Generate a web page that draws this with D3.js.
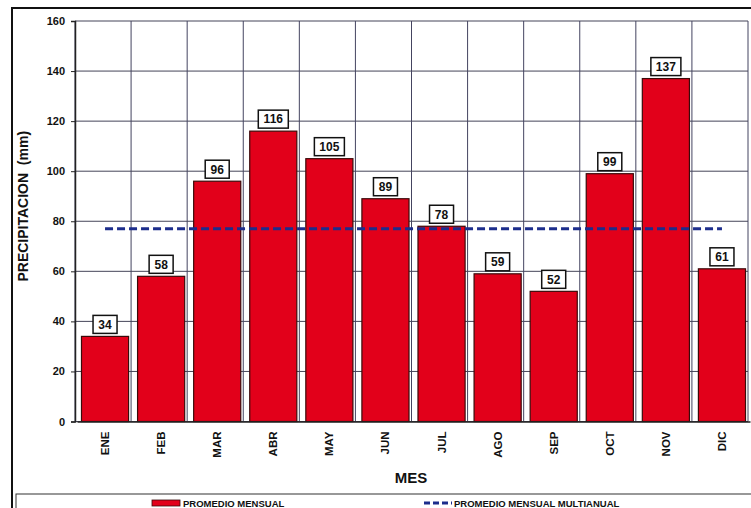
<!DOCTYPE html>
<html>
<head>
<meta charset="utf-8">
<script src="https://cdn.jsdelivr.net/npm/d3@7"></script>
<style>
  body { margin: 0; background: #fff; }
  svg { display: block; font-family: Arial, "Liberation Sans", sans-serif; font-weight: bold; }
</style>
</head>
<body>
<div id="chart"></div>
<script>
// ========== DATA ==========
const months = ["ENE", "FEB", "MAR", "ABR", "MAY", "JUN", "JUL", "AGO", "SEP", "OCT", "NOV", "DIC"];
const monthly = [34, 58, 96, 116, 105, 89, 78, 59, 52, 99, 137, 61];
const multiannual = [77, 77, 77, 77, 77, 77, 77, 77, 77, 77, 77, 77];
const yTicks = [0, 20, 40, 60, 80, 100, 120, 140, 160];

const width = 751, height = 508;
const margin = { top: 21, right: 3, bottom: 86.5, left: 75 };

const svg = d3.select("#chart").append("svg")
  .attr("width", width)
  .attr("height", height);

// outer frame
svg.append("rect")
  .attr("x", 12).attr("y", 8)
  .attr("width", 750).attr("height", 520)
  .style("fill", "none").style("stroke", "#111").style("stroke-width", 2);

// bars sit a little right of the cell centre in the original
const x = d3.scaleBand()
  .domain(months)
  .range([margin.left + 2, width - margin.right + 2])
  .paddingInner(0.16)
  .paddingOuter(0.08);

const y = d3.scaleLinear()
  .domain([0, 160])
  .range([height - margin.bottom, margin.top]);

const plot = svg.append("g");

// horizontal grid
plot.selectAll(".hgrid")
  .data(yTicks)
  .join("line")
  .attr("x1", margin.left).attr("x2", width - margin.right)
  .attr("y1", d => y(d)).attr("y2", d => y(d))
  .style("stroke", "#444458").style("stroke-width", 1);

// vertical grid at category boundaries
const bounds = d3.range(months.length + 1).map(i => margin.left + i * (width - margin.right - margin.left) / months.length);
plot.selectAll(".vgrid")
  .data(bounds)
  .join("line")
  .attr("x1", d => d).attr("x2", d => d)
  .attr("y1", y(160)).attr("y2", y(0))
  .style("stroke", "#444460").style("stroke-width", 1);

// y axis
const yAxis = svg.append("g")
  .attr("transform", `translate(${margin.left},0)`)
  .call(d3.axisLeft(y).tickValues(yTicks).tickSize(4).tickPadding(6));
yAxis.select(".domain").style("stroke", "#222").style("stroke-width", 1.5);
yAxis.selectAll(".tick line").style("stroke", "#222");
yAxis.selectAll("text")
  .style("font-size", "11px").style("font-weight", "bold")
  .style("font-family", "Arial, sans-serif").style("fill", "#111");

// x axis
const xAxis = svg.append("g")
  .attr("transform", `translate(0,${y(0)})`)
  .call(d3.axisBottom(x).tickSize(0).tickPadding(0));
xAxis.select(".domain").style("stroke", "#222").style("stroke-width", 1.5);
xAxis.selectAll("text")
  .attr("transform", "rotate(-90)")
  .attr("x", -10).attr("y", 0).attr("dy", "0.35em")
  .style("text-anchor", "end")
  .style("font-size", "11.5px").style("font-weight", "bold")
  .style("font-family", "Arial, sans-serif").style("fill", "#111");

// bars
plot.selectAll(".bar")
  .data(monthly)
  .join("rect")
  .attr("x", (d, i) => x(months[i]))
  .attr("y", d => y(d))
  .attr("width", x.bandwidth())
  .attr("height", d => y(0) - y(d))
  .style("fill", "#e2001a")
  .style("stroke", "#3a0a0a")
  .style("stroke-width", 1.2);

// multiannual dashed line
const line = d3.line()
  .x((d, i) => x(months[i]) + x.bandwidth() / 2)
  .y(d => y(d));
plot.append("path")
  .datum(multiannual)
  .attr("d", line)
  .style("fill", "none")
  .style("stroke", "#1c2d8c")
  .style("stroke-width", 3)
  .style("stroke-dasharray", "8,4");

// value labels
const labels = plot.selectAll(".lbl")
  .data(monthly)
  .join("g")
  .attr("transform", (d, i) => `translate(${x(months[i]) + x.bandwidth() / 2},${y(d) - 12})`);
labels.append("rect")
  .attr("x", d => d >= 100 ? -15 : -12)
  .attr("y", -9)
  .attr("width", d => d >= 100 ? 30 : 24)
  .attr("height", 18)
  .style("fill", "#fff")
  .style("stroke", "#111")
  .style("stroke-width", 1.5);
labels.append("text")
  .attr("text-anchor", "middle")
  .attr("dy", "0.36em")
  .style("font-size", "12px")
  .style("fill", "#111")
  .text(d => d);

// axis titles
svg.append("text")
  .attr("transform", `translate(28,${(y(0) + y(160)) / 2 - 15}) rotate(-90)`)
  .attr("text-anchor", "middle")
  .style("font-size", "14px")
  .style("fill", "#111")
  .style("white-space", "pre")
  .text("PRECIPITACION  (mm)");

svg.append("text")
  .attr("x", 411).attr("y", 483)
  .attr("text-anchor", "middle")
  .style("font-size", "15px")
  .style("fill", "#111")
  .text("MES");

// legend
const legend = svg.append("g");
legend.append("rect")
  .attr("x", 16).attr("y", 494)
  .attr("width", 740).attr("height", 30)
  .style("fill", "#fff").style("stroke", "#333").style("stroke-width", 1);
legend.append("rect")
  .attr("x", 152).attr("y", 500)
  .attr("width", 28).attr("height", 6)
  .style("fill", "#e2001a").style("stroke", "#3a0a0a").style("stroke-width", 0.8);
legend.append("text")
  .attr("x", 183).attr("y", 507)
  .style("font-size", "9.5px")
  .style("fill", "#111")
  .text("PROMEDIO MENSUAL");
legend.append("line")
  .attr("x1", 424).attr("x2", 452)
  .attr("y1", 503).attr("y2", 503)
  .style("stroke", "#1c2d8c").style("stroke-width", 3)
  .style("stroke-dasharray", "6,3");
legend.append("text")
  .attr("x", 454).attr("y", 507)
  .style("font-size", "9.5px")
  .style("fill", "#111")
  .text("PROMEDIO MENSUAL MULTIANUAL");
</script>
</body>
</html>
